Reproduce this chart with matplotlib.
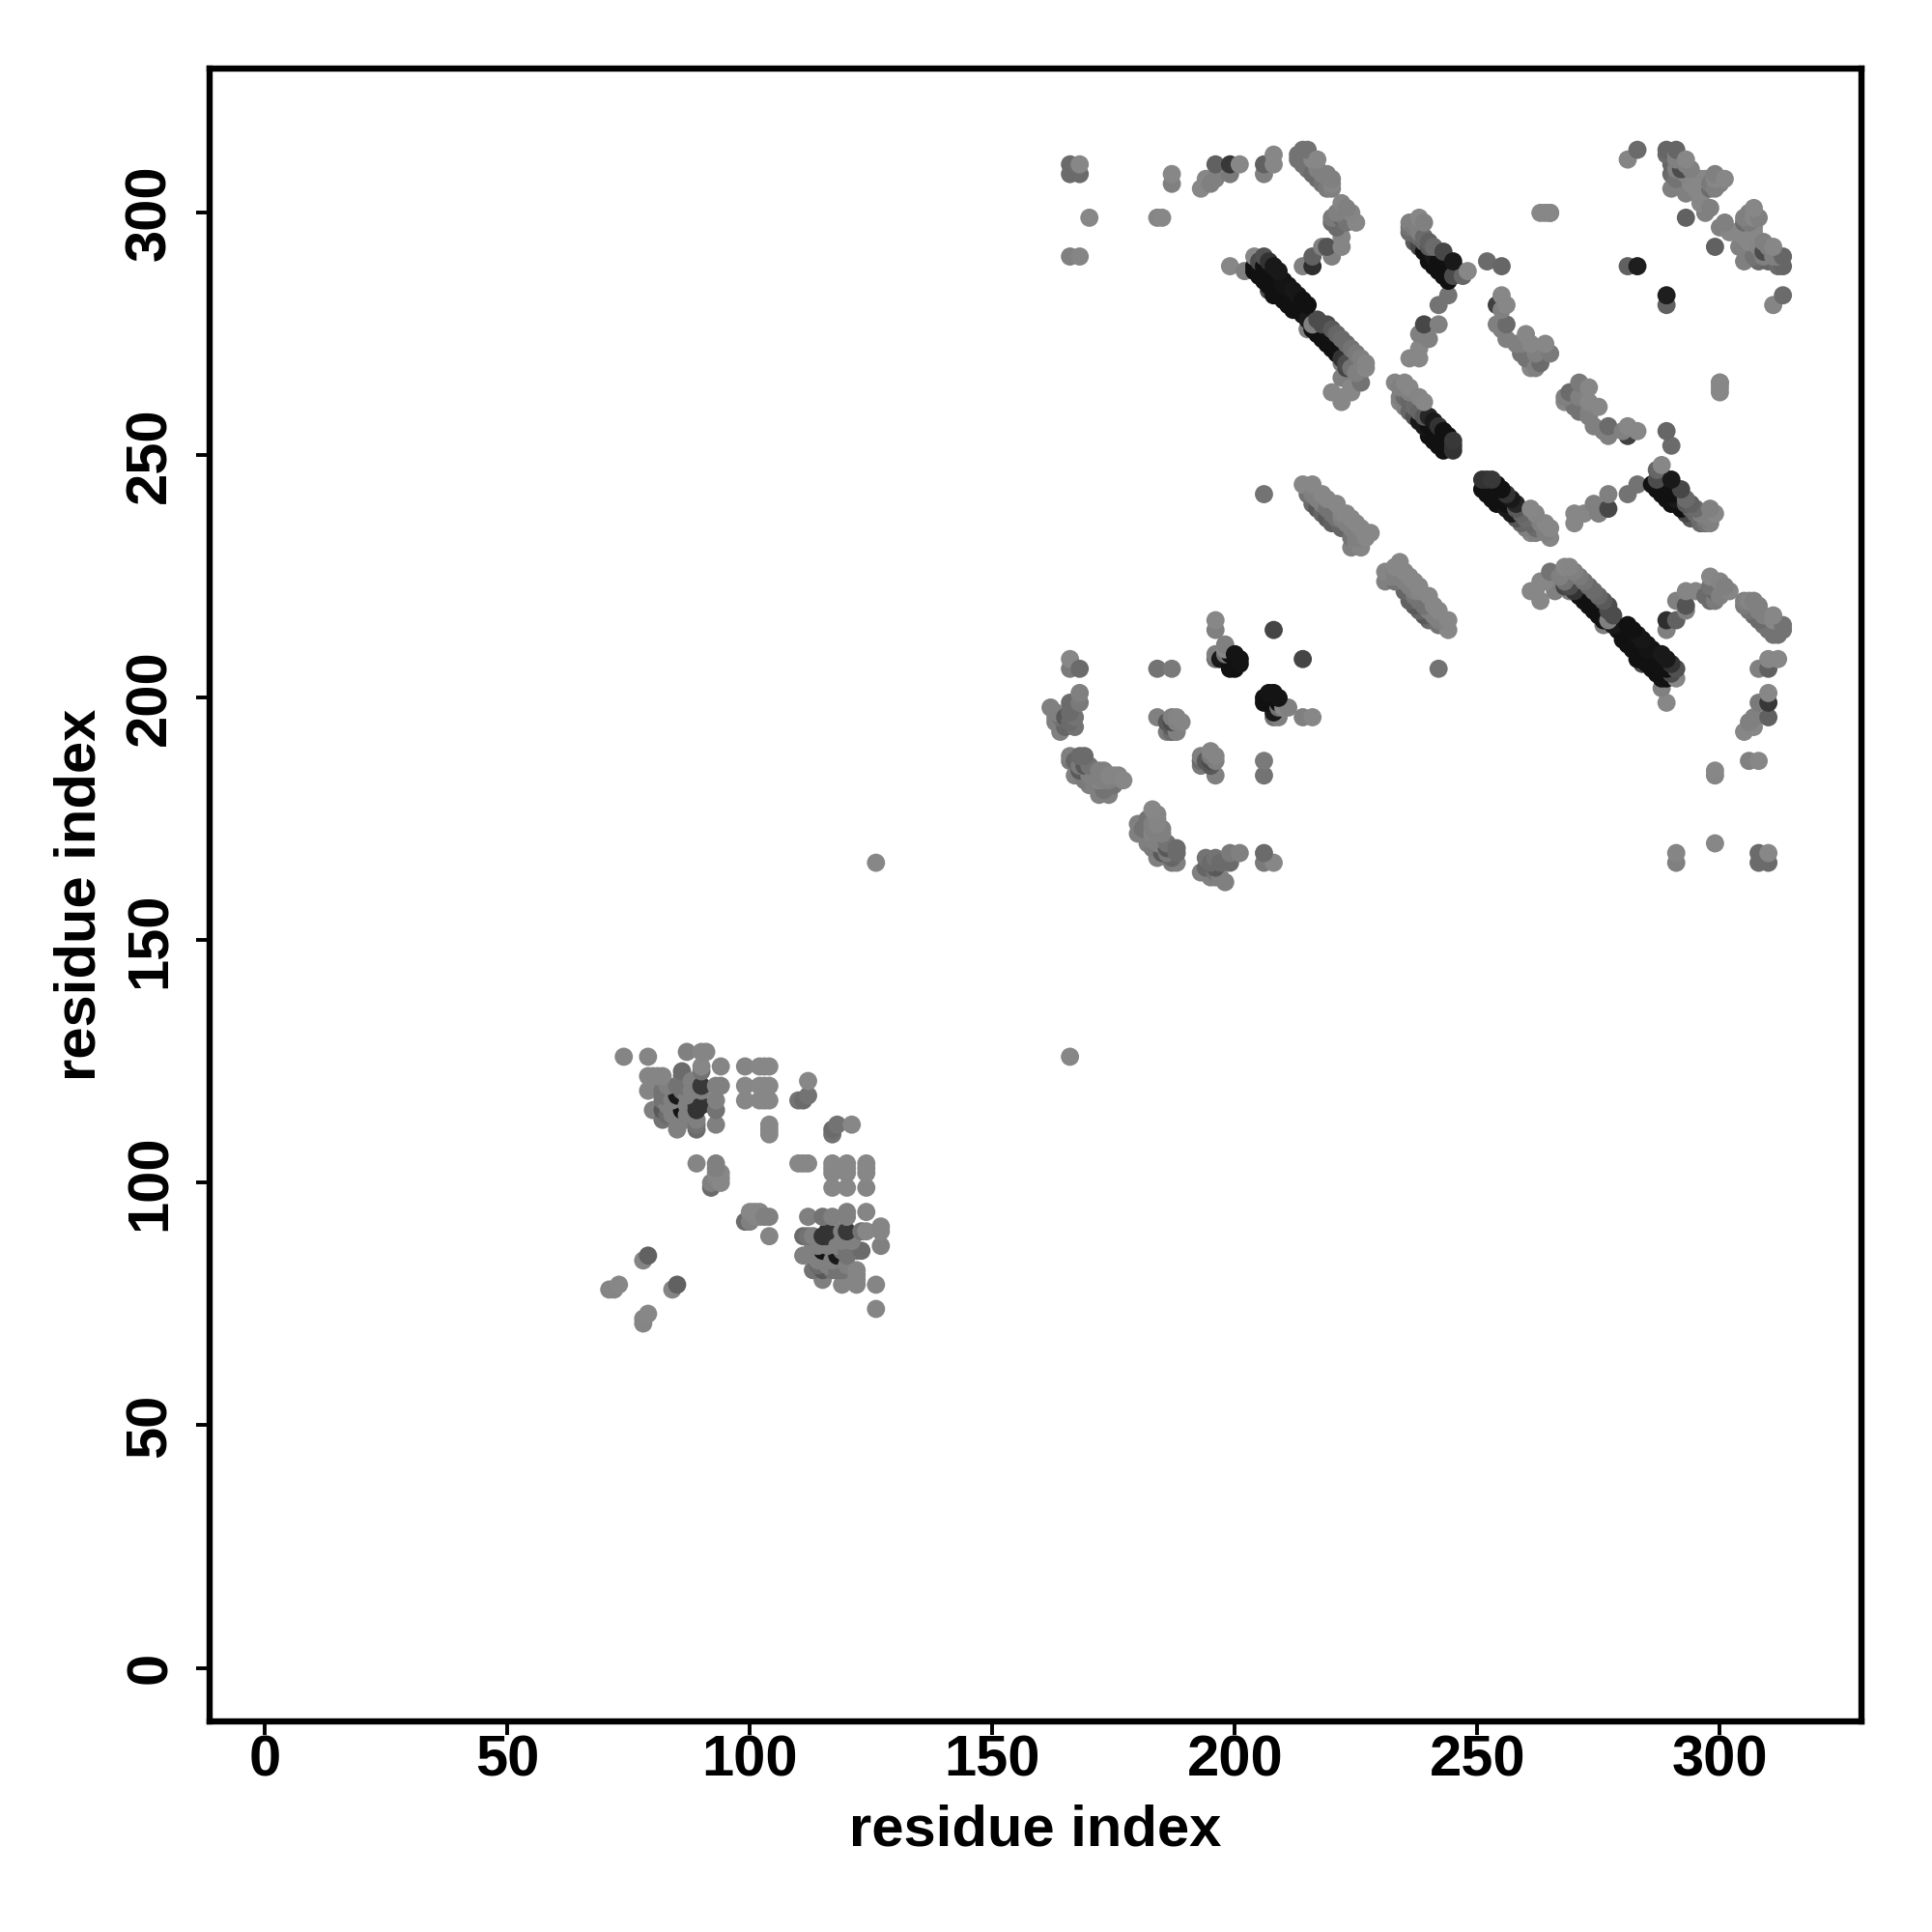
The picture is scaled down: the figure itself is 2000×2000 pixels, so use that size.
import numpy as np
import matplotlib
matplotlib.use("Agg")
import matplotlib.pyplot as plt

plt.rcParams["font.family"] = ["Liberation Sans", "DejaVu Sans"]
plt.rcParams["font.weight"] = "bold"

# contacts as (residue a, residue b, grey level), a < b; the map is symmetric
domain_low = [
    (71, 78, .52), (72, 78, .52), (73, 79, .53), (78, 84, .52), (79, 85, .38),
    (74, 126, .52), (79, 126, .52), (87, 127, .5), (90, 127, .52), (91, 127, .52),
    (94, 124, .52), (99, 124, .52), (102, 124, .53), (103, 124, .53), (104, 124, .53),
    (99, 120, .53), (102, 120, .53), (103, 120, .53), (104, 120, .53),
    (99, 117, .53), (102, 117, .53), (103, 117, .53), (104, 117, .53),
    (104, 112, .53), (104, 111, .53), (104, 110, .53),
    (110, 117, .45), (111, 117, .42), (112, 118, .45), (112, 121, .53),
    (89, 104, .52), (93, 104, .5), (92, 99, .42), (92, 100, .5), (93, 101, .52),
    (93, 102, .53), (94, 100, .53), (94, 101, .53), (94, 102, .53), (93, 103, .5),
    (79, 122, .52), (80, 122, .52), (81, 122, .52), (82, 122, .52),
    (86, 123, .42), (86, 122, .45), (90, 123, .45), (90, 124, .53), (93, 120, .5),
    (79, 119, .52), (80, 120, .52), (82, 119, .45), (82, 118, .45), (82, 117, .45),
    (86, 120, .45), (86, 119, .45), (88, 119, .5), (90, 120, .22), (90, 119, .5),
    (94, 120, .5), (85, 118, .1), (80, 115, .5), (82, 115, .35), (83, 114, .42),
    (82, 113, .45), (85, 113, .5), (85, 111, .5), (86, 115, .08),
    (87, 114, .5), (89, 116, .2), (90, 116, .2), (89, 115, .2), (93, 117, .5),
    (93, 115, .45), (93, 112, .5), (89, 113, .5), (89, 112, .45), (89, 111, .42),
    (87, 116, .5), (84, 117, .5), (87, 118, .5), (83, 116, .5), (85, 120, .45),
    (84, 114, .5), (87, 113, .5), (88, 121, .5), (83, 120, .5),
    (126, 166, .53),
]

domain_mid = [
    (166, 208, .53), (166, 206, .48), (168, 206, .42),
    (184, 206, .45), (187, 206, .48), (196, 216, .53), (196, 214, .5),
    (208, 214, .27), (198, 211, .5), (196, 209, .5), (196, 208, .45), (197, 208, .1),
    (199, 206, .07), (199, 207, .07), (199, 208, .07), (199, 209, .07),
    (200, 206, .07), (200, 207, .07), (200, 208, .07), (200, 209, .08), (201, 207, .08), (201, 208, .08),
    (198, 210, .53), (198, 209, .45),
    (168, 201, .5), (168, 199, .48), (166, 199, .42), (162, 198, .5), (163, 196, .5),
    (164, 193, .5), (167, 196, .45), (167, 194, .45), (165, 194, .4), (165, 196, .35),
    (164, 196, .45), (163, 197, .5), (163, 195, .5), (166, 197, .42), (166, 195, .42),
    (184, 196, .5), (186, 193, .48), (187, 193, .42), (188, 196, .52), (189, 195, .52),
    (187, 196, .5), (186, 195, .35), (187, 195, .3), (188, 195, .48), (187, 194, .35),
    (193, 188, .5), (193, 187, .42), (195, 188, .5),
    (166, 188, .5), (167, 187, .4), (168, 188, .42), (169, 188, .42), (170, 186, .45),
    (167, 184, .5), (169, 186, .35), (172, 185, .5), (173, 185, .5), (175, 184, .52),
    (176, 184, .52), (172, 180, .5), (174, 180, .5), (175, 182, .45), (177, 183, .53),
    (170, 182, .5), (172, 183, .52), (174, 183, .5), (174, 184, .52), (173, 181, .45),
    (166, 187, .48), (169, 183, .48), (168, 185, .35), (171, 184, .5), (173, 183, .5),
    (171, 182, .5), (170, 184, .5), (168, 186, .48),
]

domain_top_left = [
    (166, 308, .42), (168, 308, .42), (166, 310, .42), (168, 310, .53),
    (170, 299, .53), (184, 299, .52), (185, 299, .53),
    (166, 291, .5), (168, 291, .52), (187, 308, .53), (187, 306, .5),
    (193, 305, .53), (194, 307, .53), (196, 307, .5), (195, 306, .5), (196, 310, .38),
    (199, 308, .48), (199, 310, .22), (201, 310, .53), (206, 308, .5), (206, 310, .38),
    (208, 312, .53), (208, 310, .53),
    (213, 312, .45), (213, 311, .45), (214, 313, .45), (215, 313, .45), (214, 310, .45),
    (215, 309, .45), (216, 311, .53), (217, 311, .53), (216, 308, .42), (217, 307, .42),
    (218, 306, .45), (219, 305, .48), (220, 305, .5), (220, 307, .5), (219, 308, .5),
    (217, 309, .5), (218, 308, .5), (220, 306, .52),
    (220, 299, .48), (222, 302, .52), (224, 300, .52), (225, 298, .53), (223, 301, .5),
    (221, 297, .42), (220, 298, .42), (222, 299, .4), (223, 298, .45), (221, 300, .5),
    (222, 295, .52), (222, 293, .52), (219, 293, .33), (218, 293, .5), (220, 291, .5),
    (216, 291, .38), (216, 289, .18), (214, 289, .5),
    (199, 289, .53), (202, 288, .5),
]

# strand pairing, residues 204-228 against 262-291
strand_main = [
    (204, 291, .53), (204, 289, .07), (204, 288, .07), (205, 290, .3), (205, 287, .07),
    (206, 291, .32), (206, 289, .07), (206, 286, .07), (207, 290, .2), (207, 288, .07),
    (207, 285, .07), (207, 284, .3), (208, 289, .1), (208, 286, .07), (208, 283, .07),
    (209, 288, .1), (209, 283, .07), (210, 286, .08), (210, 285, .08), (210, 282, .07),
    (211, 285, .08), (211, 281, .07), (212, 284, .09), (212, 280, .07), (213, 283, .09),
    (213, 280, .07), (214, 282, .07), (214, 279, .07), (215, 281, .07), (215, 278, .1),
    (215, 276, .5), (216, 277, .5), (216, 276, .07), (217, 278, .3), (217, 275, .07),
    (218, 277, .3), (218, 274, .07), (219, 277, .3), (219, 273, .07), (220, 276, .35),
    (220, 272, .07), (221, 275, .4), (221, 271, .07), (222, 274, .42), (222, 270, .2),
    (222, 269, .5), (222, 266, .5), (223, 273, .42), (223, 269, .3), (223, 268, .27),
    (224, 272, .45), (224, 268, .45), (224, 264, .53), (224, 263, .53), (225, 271, .48),
    (225, 267, .5), (226, 270, .5), (226, 265, .45), (227, 269, .52), (227, 268, .53),
    (222, 262, .53), (220, 263, .53), (222, 261, .53),
]

# strand pairing, residues 236-248 against 286-299
strand_a = [
    (236, 298, .5), (236, 297, .45), (236, 296, .42), (237, 298, .5), (237, 297, .48),
    (237, 294, .35), (238, 299, .53), (238, 296, .5), (238, 295, .42), (238, 293, .28),
    (239, 298, .5), (239, 295, .42), (239, 294, .4), (239, 292, .07), (240, 294, .38),
    (240, 293, .35), (240, 290, .07), (241, 293, .42), (241, 291, .1), (241, 289, .07),
    (242, 290, .07), (242, 288, .07), (243, 292, .28), (243, 289, .07), (243, 287, .07),
    (244, 288, .07), (244, 286, .07), (245, 290, .1), (245, 287, .3), (246, 288, .3),
    (247, 287, .4), (248, 288, .53),
    (252, 290, .42), (255, 289, .4),
    (244, 283, .45), (242, 281, .45), (239, 277, .28), (242, 277, .5),
    (238, 275, .5), (240, 274, .5), (238, 272, .53), (236, 270, .53), (238, 270, .53),
]

strand_curve = [
    (254, 281, .25), (255, 280, .5), (255, 283, .53), (256, 281, .53), (254, 277, .5),
    (256, 277, .42), (255, 276, .5), (256, 274, .5), (258, 273, .5), (260, 275, .53),
    (264, 273, .53), (265, 271, .48), (261, 268, .53), (260, 270, .45), (263, 269, .42),
    (259, 271, .45), (262, 271, .5), (261, 273, .53), (262, 268, .5), (259, 273, .5),
    (264, 300, .53), (265, 300, .53), (300, 265, .53), (300, 263, .53),
]

# strand pairing, residues 233-246 against 251-265
strand_b = [
    (233, 265, .52), (234, 264, .5), (234, 262, .5), (234, 261, .53), (235, 265, .53),
    (235, 262, .42), (235, 260, .5), (236, 264, .53), (236, 263, .5), (236, 261, .4),
    (236, 259, .4), (237, 260, .42), (237, 258, .33), (238, 262, .52), (238, 259, .4),
    (238, 257, .1), (239, 261, .53), (239, 258, .35), (239, 256, .1), (240, 258, .15),
    (240, 256, .07), (240, 254, .07), (241, 257, .1), (241, 255, .07), (241, 253, .07),
    (242, 256, .2), (242, 254, .07), (242, 252, .07), (243, 255, .07), (243, 253, .07),
    (243, 251, .07), (244, 254, .07), (244, 252, .07), (245, 253, .22), (245, 252, .2),
    (245, 251, .2),
]

# strand pairing, residues 214-228 against 231-244
strand_c = [
    (214, 244, .53), (216, 244, .53), (215, 242, .45), (216, 242, .5), (216, 240, .42),
    (217, 241, .5), (217, 239, .35), (218, 242, .53), (218, 240, .5), (218, 238, .4),
    (219, 241, .53), (219, 239, .45), (219, 237, .35), (220, 238, .45), (220, 236, .38),
    (221, 240, .53), (221, 237, .45), (222, 238, .52), (222, 237, .5), (222, 235, .4),
    (223, 238, .53), (223, 236, .5), (224, 237, .53), (224, 235, .5), (224, 233, .45),
    (224, 231, .5), (225, 236, .53), (225, 234, .5), (225, 233, .5), (225, 232, .5),
    (226, 235, .53), (226, 233, .5), (226, 231, .52), (227, 234, .53), (227, 233, .53),
    (228, 234, .53), (206, 242, .45),
]

domain_top_right = [
    (281, 311, .52), (283, 313, .42), (289, 313, .4), (291, 313, .4), (293, 311, .53),
    (290, 310, .4), (290, 308, .42), (291, 309, .5), (292, 306, .5), (293, 308, .52),
    (294, 306, .53), (295, 307, .53), (295, 305, .53), (296, 303, .53), (296, 302, .53),
    (297, 307, .53), (298, 306, .48), (298, 305, .42), (299, 308, .5), (300, 306, .5),
    (301, 307, .53), (293, 299, .38), (299, 305, .5), (293, 304, .5), (296, 307, .53),
    (291, 307, .45), (293, 310, .5), (290, 305, .5), (291, 311, .5), (294, 309, .5),
    (292, 309, .3), (299, 307, .53), (291, 312, .5), (289, 312, .42),
    (297, 300, .5), (298, 301, .5),
    (281, 289, .38), (283, 289, .12),
]

tick_values = [0, 50, 100, 150, 200, 250, 300]
axis_label = "residue index"

groups = [domain_low, domain_mid, domain_top_left, strand_main, strand_a,
          strand_curve, strand_b, strand_c, domain_top_right]
rows = [c for g in groups for c in g]
a = np.array([r[0] for r in rows], dtype=float)
b = np.array([r[1] for r in rows], dtype=float)
g = np.array([r[2] for r in rows], dtype=float)

x = np.concatenate([a, b])
y = np.concatenate([b, a])
c = np.concatenate([g, g])
# upper edge of each band lies on top
order = np.argsort(x + y, kind="stable")

fig = plt.figure(figsize=(10, 10), dpi=200)
ax = fig.add_axes([217 / 2000, 1 - 1782 / 2000, 1710 / 2000, 1711 / 2000])
ax.scatter(x[order], y[order], c=c[order], cmap="gray", vmin=0, vmax=1, s=46, linewidths=0)
ax.set_xlim(-11.4, 329.2)
ax.set_ylim(-11.05, 329.75)
ax.set_xticks(tick_values)
ax.set_yticks(tick_values)
ax.tick_params(axis="x", length=5, width=1.4, labelsize=21.5, pad=0)
ax.tick_params(axis="y", length=5, width=1.4, labelsize=21.5, pad=7)
for t in ax.get_yticklabels():
    t.set_rotation(90)
    t.set_va("center")
for s in ax.spines.values():
    s.set_linewidth(2.3)
ax.set_xlabel(axis_label, fontsize=21.5, fontweight="bold")
ax.set_ylabel(axis_label, fontsize=21.5, fontweight="bold")
ax.xaxis.set_label_coords(0.5, -0.05)
ax.yaxis.set_label_coords(-0.062, 0.5)
fig.savefig("out.png", dpi=200)
